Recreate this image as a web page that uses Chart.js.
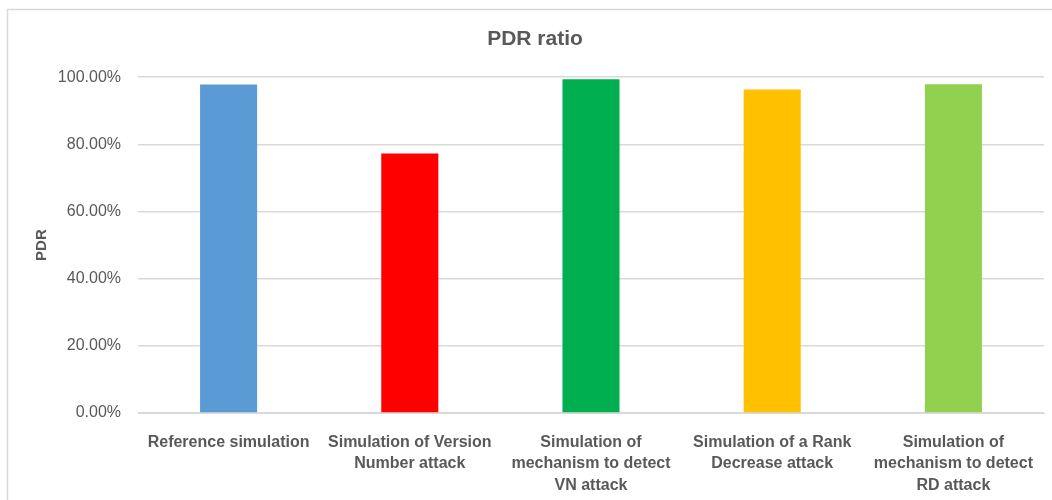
<!DOCTYPE html>
<html>
<head>
<meta charset="utf-8">
<script src="https://cdn.jsdelivr.net/npm/chart.js@4.4.0/dist/chart.umd.min.js"></script>
<style>
  html, body { margin: 0; padding: 0; background: #ffffff; }
  #wrap { position: relative; width: 1052px; height: 500px; }
</style>
</head>
<body>
<div id="wrap"><canvas id="pdrChart" width="1052" height="500"></canvas></div>
<script>
const categories = [
  ['Reference simulation'],
  ['Simulation of Version', 'Number attack'],
  ['Simulation of', 'mechanism to detect', 'VN attack'],
  ['Simulation of a Rank', 'Decrease attack'],
  ['Simulation of', 'mechanism to detect', 'RD attack'],
];
const pdrValues = [97.8, 77.3, 99.4, 96.3, 97.9];
const barColors = ['#5B9BD5', '#FF0000', '#00B050', '#FFC000', '#92D050'];
const yTicks = [0, 20, 40, 60, 80, 100];

const FONT = "'Liberation Sans', Arial, sans-serif";
const TEXT = '#595959';

// Excel-like outer frame (top and left edges visible)
const framePlugin = {
  id: 'frame',
  beforeDraw(chart) {
    const c = chart.ctx;
    c.save();
    c.fillStyle = '#ffffff';
    c.fillRect(0, 0, chart.width, chart.height);
    c.strokeStyle = '#D9D9D9';
    c.lineWidth = 1.5;
    c.strokeRect(7.5, 9.5, 1100, 600);
    c.restore();
  },
};

new Chart(document.getElementById('pdrChart').getContext('2d'), {
  type: 'bar',
  data: {
    labels: categories,
    datasets: [
      {
        label: 'PDR',
        data: pdrValues,
        backgroundColor: barColors,
        borderWidth: 0,
        categoryPercentage: 1,
        barPercentage: 0.315,
      },
    ],
  },
  options: {
    responsive: false,
    animation: false,
    layout: { padding: { left: 26, right: 8, top: 0, bottom: 0 } },
    plugins: {
      legend: { display: false },
      tooltip: { enabled: false },
      title: {
        display: true,
        text: 'PDR ratio',
        color: TEXT,
        font: { family: FONT, size: 21, weight: 'bold' },
        padding: { top: 27, bottom: 25 },
      },
    },
    scales: {
      x: {
        grid: { display: false },
        border: { display: true, color: '#D9D9D9', width: 1 },
        ticks: {
          color: TEXT,
          font: { family: FONT, size: 16, weight: 'bold', lineHeight: 1.33 },
          maxRotation: 0,
          autoSkip: false,
          padding: 11,
        },
        afterFit(scale) {
          scale.height = 87;
        },
      },
      y: {
        min: 0,
        max: 100,
        afterBuildTicks(scale) {
          scale.ticks = yTicks.map((v) => ({ value: v }));
        },
        grid: { color: '#D9D9D9', lineWidth: 1.5, drawTicks: false },
        border: { display: false },
        ticks: {
          color: TEXT,
          font: { family: FONT, size: 16 },
          padding: 17,
          callback: (v) => v.toFixed(2) + '%',
        },
        title: {
          display: true,
          text: 'PDR',
          color: TEXT,
          font: { family: FONT, size: 15, weight: 'bold' },
          padding: { top: 7, bottom: 0 },
        },
        afterFit(scale) {
          scale.width = 112;
        },
      },
    },
  },
  plugins: [framePlugin],
});
</script>
</body>
</html>
